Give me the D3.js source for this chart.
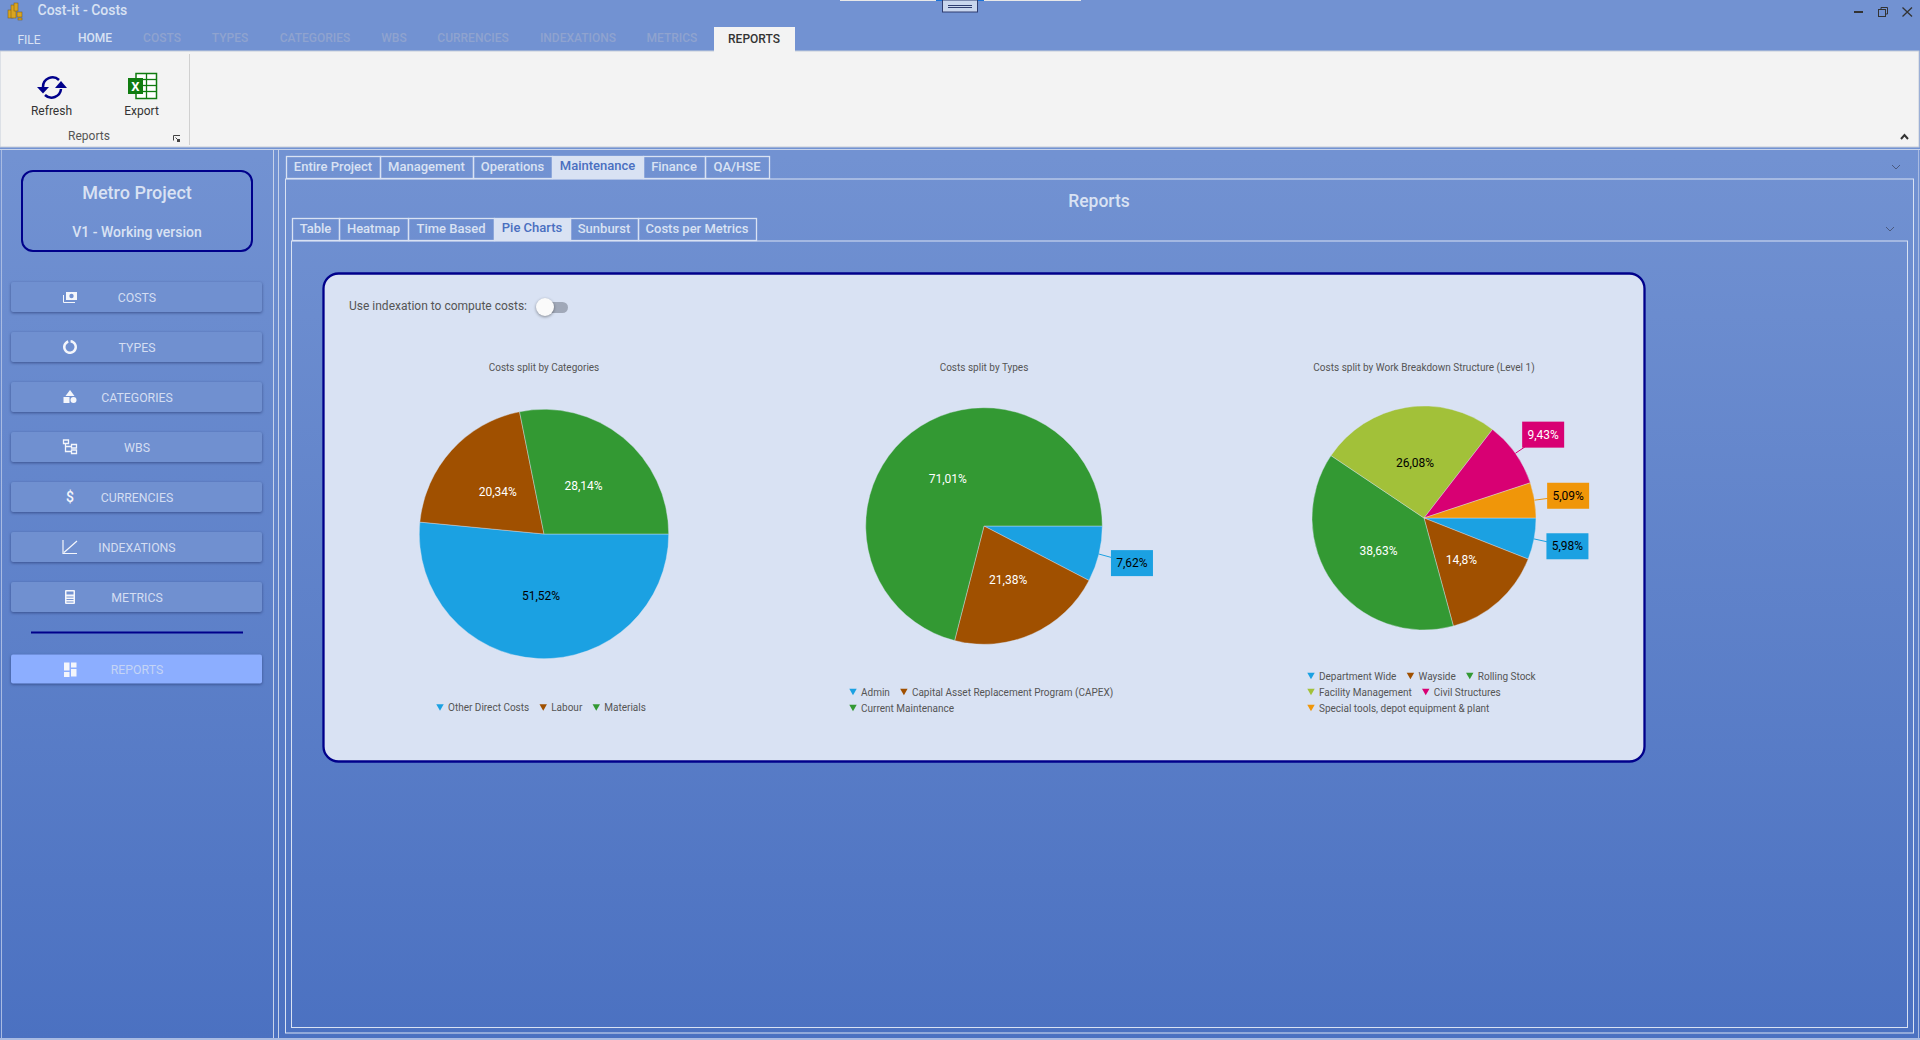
<!DOCTYPE html>
<meta charset="utf-8">
<title>Cost-it - Costs</title>
<head>
  <script src="https://d3js.org/d3.v7.min.js"></script>
  <style>
    html, body { margin: 0; padding: 0; overflow: hidden; background: #5a7dc8; }
    text { font-family: Roboto, sans-serif; }
  </style>
</head>
<body>
<div id="app"></div>
<script>
  var width = 1920, height = 1040;
  var light = "#d9e2f3", navy = "#00008b";

  var svg = d3.select("#app").append("svg")
      .attr("width", width)
      .attr("height", height)
      .style("display", "block");

  var defs = svg.append("defs");
  var grad = defs.append("linearGradient").attr("id", "bg")
      .attr("x1", 0).attr("y1", 0).attr("x2", 0).attr("y2", 1);
  grad.append("stop").attr("offset", "15%").attr("stop-color", "#7292d2");
  grad.append("stop").attr("offset", "100%").attr("stop-color", "#4b71c1");

  svg.append("rect").attr("width", width).attr("height", height).attr("fill", "url(#bg)");

  function label(g, x, y, str, size, color, weight, anchor) {
    return g.append("text")
        .attr("x", x).attr("y", y)
        .attr("dy", "0.35em")
        .attr("text-anchor", anchor || "middle")
        .attr("font-size", size)
        .attr("font-weight", weight || 400)
        .attr("fill", color)
        .text(str);
  }

  // ---------- window title bar
  var top_ = svg.append("g");
  label(top_, 37.5, 10, "Cost-it - Costs", 14, light, 500, "start");

  // app icon, little coin stacks
  [[8, 10, 5, 8], [11, 5, 5, 13], [14, 3, 4, 8], [17, 12, 5, 5], [18, 18, 4, 2]].forEach(function(r) {
    top_.append("rect").attr("x", r[0]).attr("y", r[1]).attr("width", r[2]).attr("height", r[3])
        .attr("fill", "#d9a520").attr("stroke", "#7a5a10").attr("stroke-width", 0.5);
  });

  top_.append("rect").attr("x", 840).attr("y", 0).attr("width", 96).attr("height", 1).attr("fill", "#e8e8e8");
  top_.append("rect").attr("x", 984).attr("y", 0).attr("width", 97).attr("height", 1).attr("fill", "#e8e8e8");
  top_.append("rect").attr("x", 936).attr("y", 0).attr("width", 48).attr("height", 1).attr("fill", "#1a73d8");
  top_.append("rect").attr("x", 942.5).attr("y", 0).attr("width", 35).attr("height", 12)
      .attr("fill", "#c9d6ee").attr("stroke", "#2f3d70");
  [5.5, 7.5].forEach(function(y) {
    top_.append("line").attr("x1", 948).attr("x2", 972).attr("y1", y).attr("y2", y).attr("stroke", "#2f3d70");
  });

  // window buttons
  top_.append("rect").attr("x", 1854).attr("y", 11).attr("width", 9).attr("height", 2).attr("fill", "#333");
  top_.append("rect").attr("x", 1878.5).attr("y", 9.5).attr("width", 7).attr("height", 7).attr("fill", "none").attr("stroke", "#333");
  top_.append("path").attr("d", "M1881 9V7.5H1887.5V14H1886").attr("fill", "none").attr("stroke", "#333");
  top_.append("path").attr("d", "M1902.5 7.5L1912 16.5M1912 7.5L1902.5 16.5").attr("stroke", "#333").attr("stroke-width", 1.3);

  // ---------- ribbon
  var ribbonTabs = [
    {name: "HOME", x: 95, color: light},
    {name: "COSTS", x: 162, color: "#8fa3cf"},
    {name: "TYPES", x: 230, color: "#8fa3cf"},
    {name: "CATEGORIES", x: 315, color: "#8fa3cf"},
    {name: "WBS", x: 394, color: "#8fa3cf"},
    {name: "CURRENCIES", x: 473, color: "#8fa3cf"},
    {name: "INDEXATIONS", x: 578, color: "#8fa3cf"},
    {name: "METRICS", x: 672, color: "#8fa3cf"}
  ];
  var ribbon = svg.append("g");
  ribbon.append("rect").attr("x", 0).attr("y", 51).attr("width", 1919).attr("height", 96)
      .attr("fill", "#f3f3f3").attr("stroke", "#c6cdd9");
  ribbon.append("rect").attr("x", 714).attr("y", 27).attr("width", 81).attr("height", 25).attr("fill", "#f3f3f3");
  label(ribbon, 29, 40, "FILE", 12, light, 400);
  ribbonTabs.forEach(function(t) { label(ribbon, t.x, 38, t.name, 12, t.color, 500); });
  label(ribbon, 754, 39, "REPORTS", 12, "#333", 500);

  ribbon.append("line").attr("x1", 189.5).attr("x2", 189.5).attr("y1", 54).attr("y2", 145).attr("stroke", "#d0d0d0");
  label(ribbon, 51.5, 111, "Refresh", 12, "#333");
  label(ribbon, 141.5, 111, "Export", 12, "#333");
  label(ribbon, 89, 136, "Reports", 12, "#555");

  // launcher + collapse
  ribbon.append("path").attr("d", "M173.5 140.5V135.5H180M175.5 137.5L179 141").attr("fill", "none").attr("stroke", "#444");
  ribbon.append("rect").attr("x", 177).attr("y", 139).attr("width", 3).attr("height", 3).attr("fill", "#444");
  ribbon.append("path").attr("d", "M1901 139L1904.5 135L1908 139").attr("fill", "none").attr("stroke", "#333").attr("stroke-width", 2);

  // refresh icon
  var refresh = ribbon.append("g").attr("transform", "translate(52,87)");
  refresh.append("path").attr("d", "M-9 0A9.5 9.5 0 0 1 7 -7").attr("fill", "none").attr("stroke", navy).attr("stroke-width", 2.5);
  refresh.append("path").attr("d", "M9 2A9.5 9.5 0 0 1 -7 8").attr("fill", "none").attr("stroke", navy).attr("stroke-width", 2.5);
  refresh.append("path").attr("d", "M-15 0H-3L-9 6.5Z").attr("fill", navy);
  refresh.append("path").attr("d", "M3 1H15L9 -6Z").attr("fill", navy);

  // excel icon
  var excel = ribbon.append("g").attr("transform", "translate(128,73)");
  excel.append("rect").attr("x", 8).attr("y", 0.5).attr("width", 20.5).attr("height", 25).attr("fill", "#fff").attr("stroke", "#107c10").attr("stroke-width", 1.5);
  [6.5, 12.5, 18.5].forEach(function(y) {
    excel.append("line").attr("x1", 8).attr("x2", 28).attr("y1", y).attr("y2", y).attr("stroke", "#107c10").attr("stroke-width", 1.3);
  });
  excel.append("line").attr("x1", 18.5).attr("x2", 18.5).attr("y1", 0).attr("y2", 25).attr("stroke", "#107c10").attr("stroke-width", 1.3);
  excel.append("rect").attr("x", 0).attr("y", 5).attr("width", 15).attr("height", 16).attr("fill", "#107c10");
  label(excel, 7.5, 13, "X", 13, "#fff", 700);

  // ---------- frames
  var frames = svg.append("g").attr("fill", "none");
  frames.append("line").attr("x1", 0).attr("x2", width).attr("y1", 149.5).attr("y2", 149.5).attr("stroke", "#c6d2ea");
  frames.append("line").attr("x1", 1.5).attr("x2", 1.5).attr("y1", 150).attr("y2", 1038).attr("stroke", "#a9bbe2");
  frames.append("line").attr("x1", 273.5).attr("x2", 273.5).attr("y1", 150).attr("y2", 1040).attr("stroke", "#c6d2ea");
  frames.append("line").attr("x1", 278.5).attr("x2", 278.5).attr("y1", 150).attr("y2", 1040).attr("stroke", "#c6d2ea");
  frames.append("line").attr("x1", 0).attr("x2", width).attr("y1", 1039).attr("y2", 1039).attr("stroke", "#a9bbe2").attr("stroke-width", 2);
  frames.append("line").attr("x1", 1918.5).attr("x2", 1918.5).attr("y1", 150).attr("y2", 1040).attr("stroke", "#a9bbe2");
  frames.append("rect").attr("x", 285.5).attr("y", 179).attr("width", 1628).attr("height", 854).attr("stroke", light);
  frames.append("rect").attr("x", 291.5).attr("y", 241).attr("width", 1616).attr("height", 786.5).attr("stroke", light);

  [[1896, 167], [1890, 229]].forEach(function(c) {
    frames.append("path").attr("d", "M" + (c[0] - 4) + " " + (c[1] - 2) + "L" + c[0] + " " + (c[1] + 2) + "L" + (c[0] + 4) + " " + (c[1] - 2))
        .attr("stroke", "#4a5a80");
  });

  // ---------- tabs
  var topTabs = [
    {name: "Entire Project", x0: 286, x1: 380},
    {name: "Management", x0: 380, x1: 473},
    {name: "Operations", x0: 473, x1: 552},
    {name: "Maintenance", x0: 552, x1: 643, active: true},
    {name: "Finance", x0: 643, x1: 705},
    {name: "QA/HSE", x0: 705, x1: 769}
  ];
  var subTabs = [
    {name: "Table", x0: 292, x1: 339},
    {name: "Heatmap", x0: 339, x1: 408},
    {name: "Time Based", x0: 408, x1: 494},
    {name: "Pie Charts", x0: 494, x1: 570, active: true},
    {name: "Sunburst", x0: 570, x1: 638},
    {name: "Costs per Metrics", x0: 638, x1: 756}
  ];
  function drawTabs(data, y0, y1) {
    var g = svg.append("g");
    data.forEach(function(t) {
      g.append("rect")
          .attr("x", t.x0 + 0.5).attr("y", y0 + 0.5)
          .attr("width", t.x1 - t.x0).attr("height", y1 - y0)
          .attr("fill", t.active ? light : "none")
          .attr("stroke", light).attr("stroke-width", 1.3);
      label(g, (t.x0 + t.x1) / 2, (y0 + y1) / 2 + (t.active ? -2 : -1), t.name, 13, t.active ? "#4a6fc0" : light, 500);
    });
  }
  drawTabs(topTabs, 156, 178);
  drawTabs(subTabs, 218, 240);
  label(svg, 1099, 201, "Reports", 17.5, light, 500);

  // ---------- side panel
  var side = svg.append("g");
  side.append("rect").attr("x", 22).attr("y", 171).attr("width", 230).attr("height", 80).attr("rx", 11)
      .attr("fill", "none").attr("stroke", navy).attr("stroke-width", 2);
  label(side, 137, 193, "Metro Project", 18, light, 500);
  label(side, 137, 232, "V1 - Working version", 14, light, 500);

  var buttons = ["COSTS", "TYPES", "CATEGORIES", "WBS", "CURRENCIES", "INDEXATIONS", "METRICS"];
  var btnY = d3.scalePoint().domain(buttons).range([282, 582]);

  function icon(g, name) {
    var w = "#f4f6fb";
    if (name === "COSTS") {
      g.append("rect").attr("x", -4).attr("y", -5).attr("width", 11).attr("height", 8).attr("fill", w);
      g.append("circle").attr("cx", 1.5).attr("cy", -1).attr("r", 2.2).attr("fill", "#7292d2");
      g.append("path").attr("d", "M-6.5 -2V5.5H5").attr("fill", "none").attr("stroke", w);
    } else if (name === "TYPES") {
      g.append("path").attr("d", d3.arc().innerRadius(4.5).outerRadius(7).startAngle(0.1).endAngle(Math.PI * 1.9)()).attr("fill", w);
    } else if (name === "CATEGORIES") {
      g.append("path").attr("d", "M0 -7L4.5 -1H-4.5Z").attr("fill", w);
      g.append("rect").attr("x", -6.5).attr("y", 0).attr("width", 6).attr("height", 6).attr("fill", w);
      g.append("circle").attr("cx", 3.5).attr("cy", 3).attr("r", 3).attr("fill", w);
    } else if (name === "WBS") {
      g.append("path").attr("d", "M-6.5 -7H-1.5V-3.5H-6.5ZM1.5 -2.5H6.5V1H1.5ZM1.5 3H6.5V6.5H1.5ZM-4.5 -3V4.5H1M-4.5 -0.5H1").attr("fill", "none").attr("stroke", w).attr("stroke-width", 1.3);
    } else if (name === "CURRENCIES") {
      label(g, 0, 0, "$", 14, w, 500);
    } else if (name === "INDEXATIONS") {
      g.append("path").attr("d", "M-7 -7V6.5H7M-6 5.5L7 -6").attr("fill", "none").attr("stroke", w).attr("stroke-width", 1.2);
    } else if (name === "METRICS") {
      g.append("rect").attr("x", -5).attr("y", -7).attr("width", 10).attr("height", 14).attr("rx", 1).attr("fill", w);
      g.append("rect").attr("x", -3.5).attr("y", -5.5).attr("width", 7).attr("height", 3).attr("fill", "#7292d2");
      g.append("path").attr("d", "M-3.5 0H3.5M-3.5 2.5H3.5M-3.5 5H3.5").attr("stroke", "#7292d2");
    } else {
      [[-6, -7, 5.5, 8], [1, -7, 5.5, 5], [1, -0.5, 5.5, 7.5], [-6, 2.5, 5.5, 5]].forEach(function(r) {
        g.append("rect").attr("x", r[0]).attr("y", r[1]).attr("width", r[2]).attr("height", r[3]).attr("fill", w);
      });
    }
  }

  function sideButton(name, y, fill, color, h) {
    side.append("rect").attr("x", 11).attr("y", y).attr("width", 251).attr("height", h).attr("rx", 2)
        .attr("fill", fill)
        .style("filter", "drop-shadow(0px 1px 1.5px rgba(30,45,100,.6))");
    label(side, 137, y + 15.3, name, 12.3, color, 400);
    icon(side.append("g").attr("transform", "translate(70," + (y + 15) + ")"), name);
  }
  buttons.forEach(function(b) { sideButton(b, btnY(b), "#7090d0", "#d4def2", 30); });
  side.append("line").attr("x1", 31).attr("x2", 243).attr("y1", 632.5).attr("y2", 632.5).attr("stroke", navy).attr("stroke-width", 2);
  sideButton("REPORTS", 654.5, "#8caeff", "#c4d4f5", 29);

  // ---------- card with the pies
  var card = svg.append("g");
  card.append("rect").attr("x", 323.5).attr("y", 273.5).attr("width", 1321).attr("height", 488).attr("rx", 15)
      .attr("fill", light).attr("stroke", navy).attr("stroke-width", 2.3);
  label(card, 349, 306, "Use indexation to compute costs:", 12, "#555", 400, "start");
  card.append("rect").attr("x", 545).attr("y", 302).attr("width", 23).attr("height", 11).attr("rx", 5.5).attr("fill", "#a0a8b8");
  card.append("circle").attr("cx", 545).attr("cy", 307).attr("r", 9).attr("fill", "#fafafa")
      .style("filter", "drop-shadow(0px 1px 1.5px rgba(0,0,0,.4))");

  var colors = {blue: "#1ba1e2", brown: "#a05000", green: "#339933", lime: "#a2c139", magenta: "#d80073", orange: "#f09609"};

  var charts = [
    {
      title: "Costs split by Categories", cx: 544, cy: 534, r: 124.7, legendX: 440,
      rows: [707.5],
      data: [
        {name: "Other Direct Costs", value: 51.52, text: "51,52%", color: colors.blue, ink: "#000", row: 0},
        {name: "Labour", value: 20.34, text: "20,34%", color: colors.brown, ink: "#fff", row: 0},
        {name: "Materials", value: 28.14, text: "28,14%", color: colors.green, ink: "#fff", row: 0}
      ]
    },
    {
      title: "Costs split by Types", cx: 984, cy: 526, r: 118.3, legendX: 853,
      rows: [692, 708],
      data: [
        {name: "Admin", value: 7.62, text: "7,62%", color: colors.blue, ink: "#000", row: 0, outside: true},
        {name: "Capital Asset Replacement Program (CAPEX)", value: 21.38, text: "21,38%", color: colors.brown, ink: "#fff", row: 0},
        {name: "Current Maintenance", value: 71.01, text: "71,01%", color: colors.green, ink: "#fff", row: 1}
      ]
    },
    {
      title: "Costs split by Work Breakdown Structure (Level 1)", cx: 1424, cy: 518, r: 112, legendX: 1311,
      rows: [676, 692, 708],
      data: [
        {name: "Department Wide", value: 5.98, text: "5,98%", color: colors.blue, ink: "#000", row: 0, outside: true},
        {name: "Wayside", value: 14.8, text: "14,8%", color: colors.brown, ink: "#fff", row: 0},
        {name: "Rolling Stock", value: 38.63, text: "38,63%", color: colors.green, ink: "#fff", row: 0},
        {name: "Facility Management", value: 26.08, text: "26,08%", color: colors.lime, ink: "#000", row: 1},
        {name: "Civil Structures", value: 9.43, text: "9,43%", color: colors.magenta, ink: "#fff", row: 1, outside: true},
        {name: "Special tools, depot equipment & plant", value: 5.09, text: "5,09%", color: colors.orange, ink: "#000", row: 2, outside: true}
      ]
    }
  ];

  // slices run clockwise from 3 o'clock
  var pie = d3.pie().sort(null).value(function(d) { return d.value; })
      .startAngle(Math.PI / 2).endAngle(Math.PI * 2.5);

  charts.forEach(function(c) {
    label(card, c.cx, 367, c.title, 10, "#555");

    var g = card.append("g").attr("transform", "translate(" + c.cx + "," + c.cy + ")");
    var arc = d3.arc().innerRadius(0).outerRadius(c.r);
    var labelArc = d3.arc().innerRadius(c.r + 34).outerRadius(c.r + 34);
    var edgeArc = d3.arc().innerRadius(c.r).outerRadius(c.r);
    var arcs = pie(c.data);

    g.selectAll("path.slice")
      .data(arcs)
      .enter()
      .append("path")
        .attr("class", "slice")
        .attr("d", arc)
        .attr("fill", function(d) { return d.data.color; })
        .attr("stroke", light)
        .attr("stroke-width", 0.4);

    arcs.forEach(function(d) {
      if (d.data.outside) {
        var p = labelArc.centroid(d), e = edgeArc.centroid(d);
        g.append("line")
            .attr("x1", e[0]).attr("y1", e[1]).attr("x2", p[0]).attr("y2", p[1] + 1)
            .attr("stroke", d.data.color);
        g.append("rect")
            .attr("x", p[0] - 21).attr("y", p[1] - 12)
            .attr("width", 42).attr("height", 26)
            .attr("fill", d.data.color);
        label(g, p[0], p[1] + 1, d.data.text, 12, d.data.ink);
      } else {
        var q = arc.centroid(d);
        label(g, q[0], q[1], d.data.text, 12, d.data.ink);
      }
    });

    // legend flows from the measured text width
    var triangle = d3.symbol().type(d3.symbolTriangle).size(24)();
    var xs = c.rows.map(function() { return c.legendX; });
    c.data.forEach(function(d) {
      var y = c.rows[d.row], x = xs[d.row];
      card.append("path").attr("d", triangle)
          .attr("transform", "translate(" + x + "," + (y - 1) + ") rotate(180)")
          .attr("fill", d.color);
      var t = label(card, x + 8, y, d.name, 10, "#555", 400, "start");
      xs[d.row] = x + 8 + t.node().getComputedTextLength() + 14;
    });
  });
</script>
</body>
